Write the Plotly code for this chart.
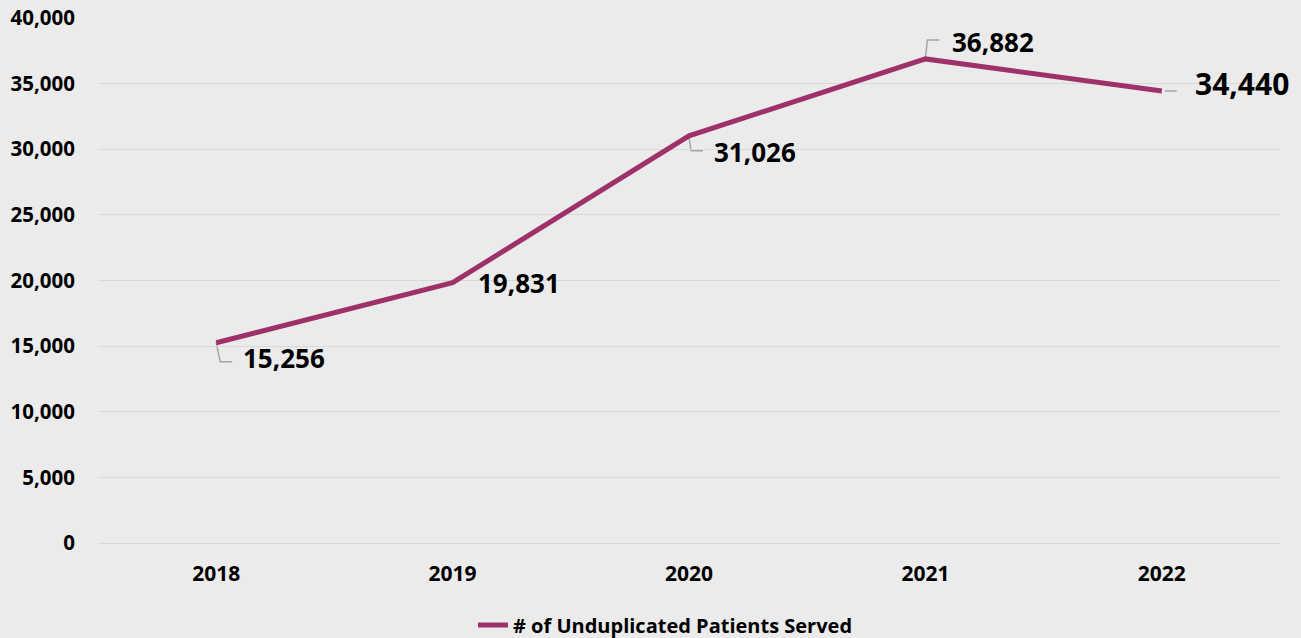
import plotly.graph_objects as go

years = ["2018", "2019", "2020", "2021", "2022"]
patients = [15256, 19831, 31026, 36882, 34440]
series_name = "# of Unduplicated Patients Served"
y_ticks = [0, 5000, 10000, 15000, 20000, 25000, 30000, 35000, 40000]

LINE = "#9E3169"
BG = "#EBEBEB"
GRID = "#D9D9D9"
LEADER = "#A6A6A6"
FONT = "Open Sans"

fig = go.Figure()
fig.add_trace(go.Scatter(
    x=years, y=patients, mode="lines", name=series_name,
    line=dict(color=LINE, width=5),
    hoverinfo="skip",
))

# label style per point: (xshift, yshift, font size, leader path in px relative to point)
label_style = [
    (25, -15, 26, "M 0 0 L 4 -19 L 16 -19"),
    (23, 0, 26, None),
    (23, -16, 26, "M 0 -1 L 2 -15 L 14 -15"),
    (25, 17, 26, "M 0 1 L 2 19 L 14 19"),
    (31, 7, 30, "M 3 0 L 15 0"),
]

for i, (yr, val, (dx, dy, fs, path)) in enumerate(zip(years, patients, label_style)):
    fig.add_annotation(
        x=i, y=val, xref="x", yref="y", text=f"{val:,}", showarrow=False,
        xanchor="left", yanchor="middle", xshift=dx, yshift=dy,
        font=dict(family=FONT, size=fs, color="#000000", weight="bold"),
    )
    if path:
        fig.add_shape(
            type="path", xref="x", yref="y",
            xsizemode="pixel", ysizemode="pixel",
            xanchor=i, yanchor=val, path=path,
            line=dict(color=LEADER, width=1.5), layer="below",
        )

fig.update_layout(
    width=1301, height=638,
    paper_bgcolor=BG, plot_bgcolor=BG,
    margin=dict(l=98, r=21, t=18, b=95, autoexpand=False),
    font=dict(family=FONT, size=21, color="#000000", weight="bold"),
    showlegend=True,
    legend=dict(orientation="h", xref="container", x=473 / 1301, xanchor="left",
                y=-0.156, yanchor="middle",
                font=dict(family=FONT, size=20, weight="bold"), bgcolor="rgba(0,0,0,0)"),
    hovermode=False,
)
fig.update_xaxes(
    type="category", range=[-0.5, len(years) - 0.5], autorange=False,
    showgrid=False, showline=False, zeroline=False,
    ticks="", tickfont=dict(family=FONT, size=21, weight="bold"),
    ticklabelstandoff=16,
)
fig.update_yaxes(
    range=[0, 40000], tickvals=y_ticks, tickformat=",",
    showgrid=True, gridcolor=GRID, gridwidth=1, zeroline=True, zerolinecolor=GRID,
    zerolinewidth=1, showline=False, ticks="",
    tickfont=dict(family=FONT, size=20.5, weight="bold"),
    ticklabelstandoff=22,
)

post = "document.body.style.margin='0';document.body.style.overflow='hidden';"
fig.write_html("out.html", post_script=post, config={"displayModeBar": False})
